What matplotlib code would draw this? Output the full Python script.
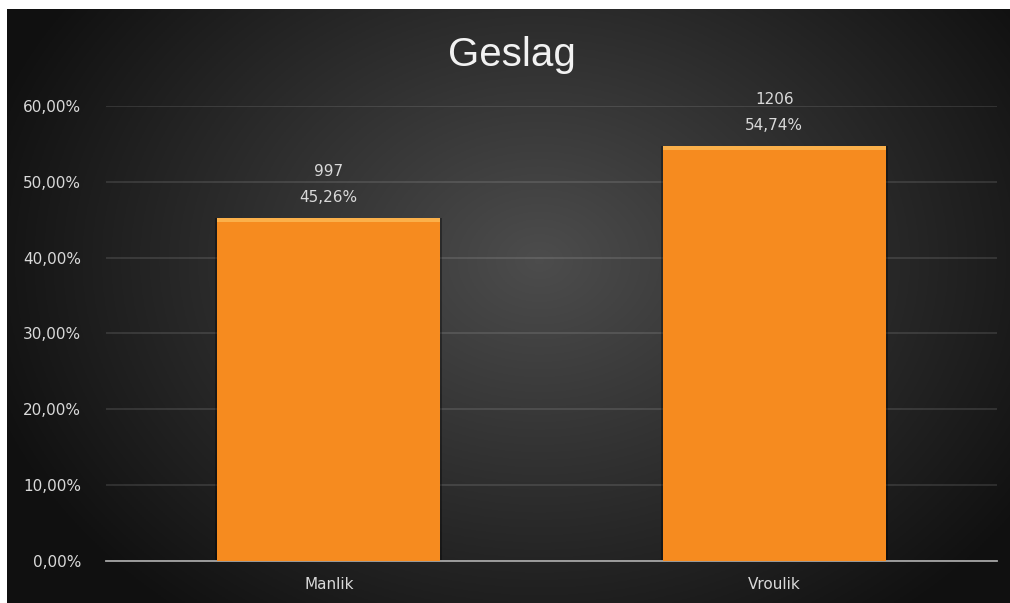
import numpy as np
import matplotlib
matplotlib.use("Agg")
import matplotlib.pyplot as plt

# data
categories = ["Manlik", "Vroulik"]
counts = [997, 1206]
shares = [0.4526, 0.5474]
yticks = [0.0, 0.1, 0.2, 0.3, 0.4, 0.5, 0.6]

W, H = 1010, 603
fig = plt.figure(figsize=(W / 100, H / 100), dpi=100)
fig.patch.set_facecolor("white")

# dark radial background (white margin top and left)
bg = fig.add_axes([7 / W, -0.01, 1.02 - 7 / W, 1.01 - 9 / H])
bg.set_axis_off()
yy, xx = np.mgrid[0:1:300j, 0:1:500j]
r = np.sqrt(((xx - 0.52) / 0.6) ** 2 + ((yy - 0.42) / 0.8) ** 2)
shade = np.clip(0.30 - 0.25 * r, 0.065, 0.30)
bg.imshow(np.dstack([shade] * 3), aspect="auto", extent=[0, 1, 0, 1])

ax = fig.add_axes([106 / W, 42.3 / H, (997 - 106) / W, (560.7 - 106) / H])
ax.set_facecolor("none")
x = np.arange(len(categories))
# soft shadow round the bars
ax.bar(x, shares, width=0.51, color="black", alpha=0.35, zorder=2)
ax.bar(x, shares, width=0.5, color="#F68B1F", zorder=3)
# top bevel highlight
ax.bar(x, [0.006] * len(x), bottom=[s - 0.006 for s in shares], width=0.5,
       color="#FBB04A", zorder=4)

for xi, c, s in zip(x, counts, shares):
    txt = f"{c}\n{s * 100:.2f}%".replace(".", ",")
    ax.annotate(txt, (xi, s), xytext=(0, 9), textcoords="offset points",
                ha="center", va="bottom", color="#d9d9d9", fontsize=11,
                linespacing=1.95)

ax.set_xlim(-0.5, len(categories) - 0.5)
ax.set_ylim(0, 0.6)
ax.set_yticks(yticks)
ax.set_yticklabels([f"{t * 100:.2f}%".replace(".", ",") for t in yticks])
ax.set_xticks(x)
ax.set_xticklabels(categories)
ax.tick_params(axis="both", length=0, colors="#d9d9d9", labelsize=11)
ax.tick_params(axis="y", pad=18)
ax.tick_params(axis="x", pad=12)
ax.grid(axis="y", color="white", alpha=0.13, linewidth=1.2, zorder=0)
for sp in ["top", "right", "left"]:
    ax.spines[sp].set_visible(False)
ax.spines["bottom"].set_color("#a6a6a6")
ax.spines["bottom"].set_linewidth(1.3)

fig.text(512 / W, 1 - 55 / H, "Geslag", ha="center", va="center",
         color="#f2f2f2", fontsize=29, family="Liberation Sans")

fig.savefig("out.png", dpi=100, facecolor=fig.get_facecolor())
